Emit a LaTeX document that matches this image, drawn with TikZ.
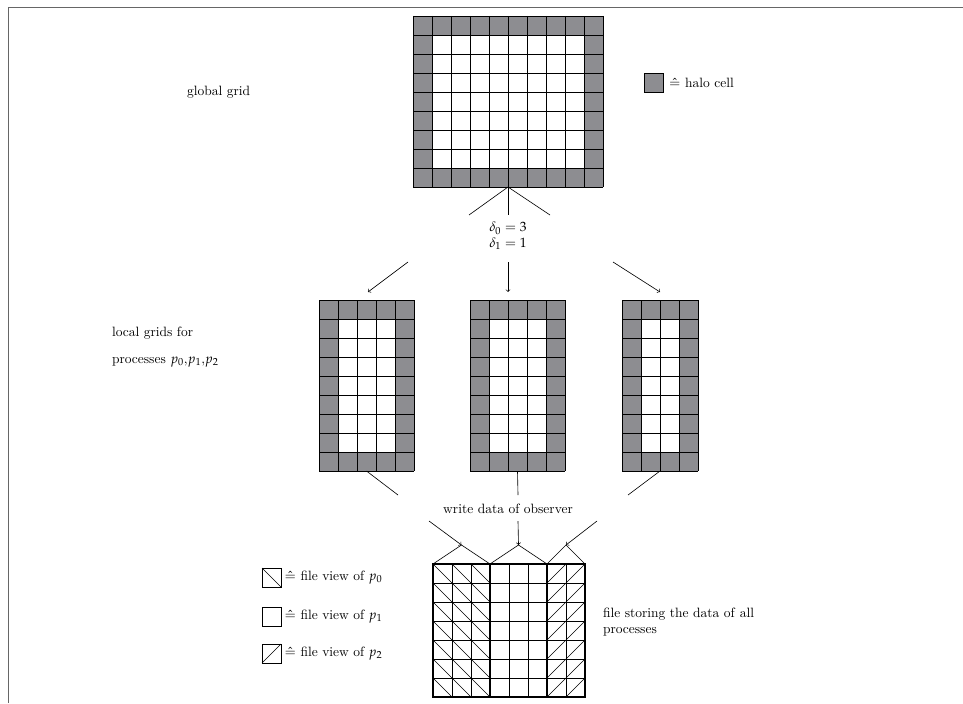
\documentclass[tikz,border=0pt]{standalone}
\usepackage{mathpazo}
\usetikzlibrary{positioning}
\definecolor{halogray}{RGB}{141,141,145}
\begin{document}
\begin{tikzpicture}[x=0.8pt, y=-0.8pt, line width=0.6pt,
	every node/.style={inner sep=0pt, outer sep=0pt, font=\fontsize{10.8}{12.5}\selectfont},
	gridbox/.style={rectangle, draw=none},
	cellkey/.style={rectangle, draw, minimum size=15.2pt},
	link/.style={line width=0.5pt},
	arr/.style={link, ->},
	viewbox/.style={rectangle, draw, line width=1.4pt, minimum height=106.4pt}]

	\useasboundingbox (0,0) rectangle (963,703);
	\draw[gray!80!black, line width=0.5pt] (8,703) -- (8,7) -- (963,7);

	% global grid
	\fill[halogray] (413,16) rectangle (603,187);
	\fill[white] (432,35) rectangle (584,168);
	\foreach \i in {0,...,10} \draw (413+19*\i,16) -- ++(0,171);
	\foreach \j in {0,...,9} \draw (413,16+19*\j) -- ++(190,0);
	\node[gridbox, minimum width=152pt, minimum height=136.8pt] (global) at (508,101.5) {};
	\node[anchor=west] (globallabel) at (187,92) {global grid};

	\node[cellkey, fill=halogray] (halo) at (653.5,82.5) {};
	\node[right=5pt of halo] (halolabel) {$\hat{=}$ halo cell};

	% split
	\coordinate (s0) at (469,215);
	\coordinate (s1) at (508,215);
	\coordinate (s2) at (550,215);
	\draw[link] (global.south) -- (s0);
	\draw[link] (global.south) -- (s1);
	\draw[link] (global.south) -- (s2);
	\node[align=center] (delta) at (508,236) {$\delta_0 = 3$\\$\delta_1 = 1$};
	\coordinate (a0) at (408,262); \coordinate (t0) at (368,292);
	\coordinate (a1) at (508,262); \coordinate (t1) at (508,292);
	\coordinate (a2) at (613,262); \coordinate (t2) at (660,292);
	\draw[arr] (a0) -- (t0);
	\draw[arr] (a1) -- (t1);
	\draw[arr] (a2) -- (t2);

	% local grids
	\foreach \x/\c/\n in {319/5/p0, 470/5/p1, 622/4/p2} {
		\fill[halogray] (\x,300) rectangle ++(19*\c,171);
		\fill[white] (\x+19,319) rectangle (\x+19*\c-19,452);
		\foreach \i in {0,...,\c} \draw (\x+19*\i,300) -- ++(0,171);
		\foreach \j in {0,...,9} \draw (\x,300+19*\j) -- ++(19*\c,0);
		\node[gridbox, minimum width=15.2pt*\c, minimum height=136.8pt] (\n) at (\x+9.5*\c,385.5) {};
	}
	\node[anchor=west] (locallabel) at (112,333) {local grids for};
	\node[anchor=west] (proclabel) at (112,362) {processes $p_0$,$p_1$,$p_2$};

	% write
	\coordinate (b0) at (398,495);
	\coordinate (b1) at (518,495);
	\coordinate (b2) at (628,495);
	\draw[link] (p0.south) -- (b0);
	\draw[link] (p1.south) -- (b1);
	\draw[link] (p2.south) -- (b2);
	\node (write) at (508,509) {write data of observer};
	\coordinate (c0) at (429,521); \coordinate (w0) at (461.5,545);
	\coordinate (c1) at (518,521); \coordinate (w1) at (518.5,545);
	\coordinate (c2) at (597,521); \coordinate (w2) at (566,545);
	\draw[arr] (c0) -- (w0);
	\draw[arr] (c1) -- (w1);
	\draw[arr] (c2) -- (w2);

	% file
	\foreach \i in {0,...,8} \draw (433+19*\i,564) -- ++(0,133);
	\foreach \j in {0,...,7} \draw (433,564+19*\j) -- ++(152,0);
	\foreach \i in {0,1,2} \foreach \j in {0,...,6} \draw[link] (433+19*\i,564+19*\j) -- ++(19,19);
	\foreach \i in {6,7} \foreach \j in {0,...,6} \draw[link] (433+19*\i,583+19*\j) -- ++(19,-19);
	\node[viewbox, minimum width=45.6pt] (f0) at (461.5,630.5) {};
	\node[viewbox, minimum width=45.6pt] (f1) at (518.5,630.5) {};
	\node[viewbox, minimum width=30.4pt] (f2) at (566,630.5) {};
	\draw[link] (f0.north west) -- (w0) -- (f0.north east);
	\draw[link] (f1.north west) -- (w1) -- (f1.north east);
	\draw[link] (f2.north west) -- (w2) -- (f2.north east);
	\node[anchor=west, align=left] (filelabel) at (603,622) {file storing the data of \emph{all}\\processes};

	% key
	\node[cellkey] (k0) at (271.5,577.5) {};
	\draw[link] (k0.north west) -- (k0.south east);
	\node[right=3pt of k0] (k0label) {$\hat{=}$ file view of $p_0$};
	\node[cellkey] (k1) at (271.5,616.5) {};
	\node[right=3pt of k1] (k1label) {$\hat{=}$ file view of $p_1$};
	\node[cellkey] (k2) at (271.5,653.5) {};
	\draw[link] (k2.south west) -- (k2.north east);
	\node[right=3pt of k2] (k2label) {$\hat{=}$ file view of $p_2$};
\end{tikzpicture}
\end{document}
